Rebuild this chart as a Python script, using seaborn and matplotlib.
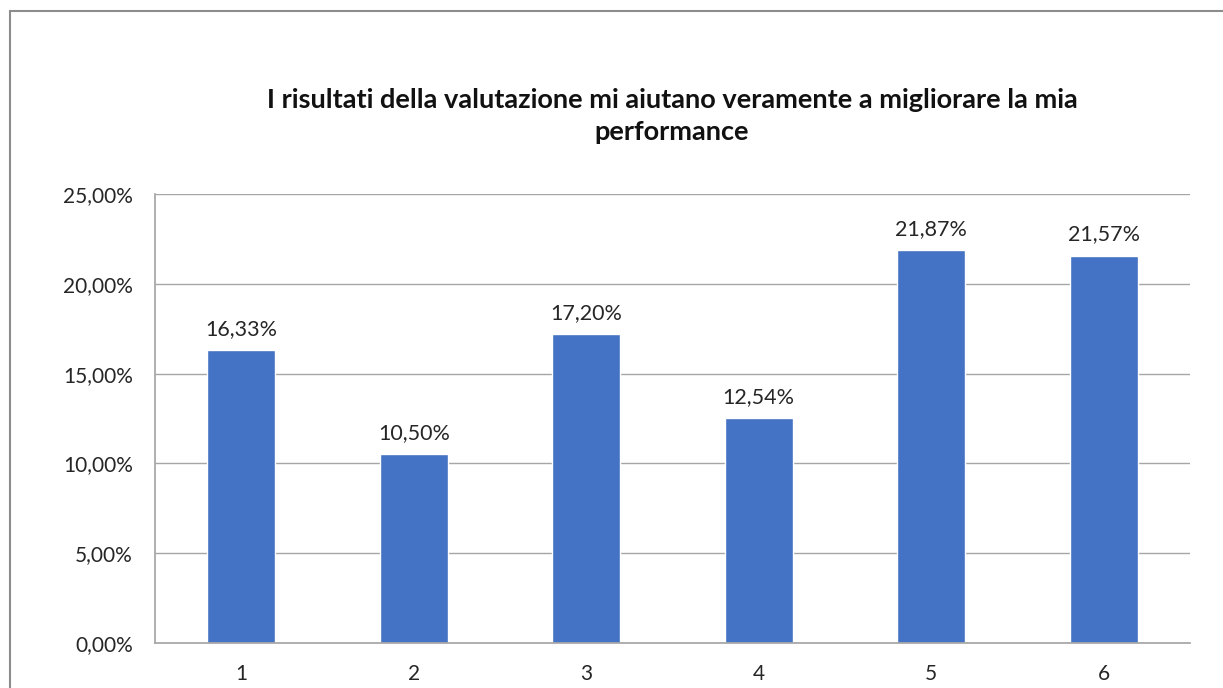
import matplotlib
matplotlib.use("Agg")
import matplotlib.pyplot as plt
from matplotlib.patches import Rectangle
import pandas as pd
import seaborn as sns

categories = ["1", "2", "3", "4", "5", "6"]
values = [16.33, 10.50, 17.20, 12.54, 21.87, 21.57]
y_ticks = [0, 5, 10, 15, 20, 25]
title = "I risultati della valutazione mi aiutano veramente a migliorare la mia\nperformance"

bar_color = "#4472C4"
grid_color = "#A6A6A6"
text_color = "#262626"

sns.set_theme(style="white")
plt.rcParams["font.family"] = ["Lato", "DejaVu Sans"]

df = pd.DataFrame({"cat": categories, "val": values})

fig = plt.figure(figsize=(12.23, 6.88), dpi=100)
ax = fig.add_axes([155 / 1223, 1 - 643 / 688, (1190 - 155) / 1223, (643 - 194) / 688])

sns.barplot(data=df, x="cat", y="val", color=bar_color, saturation=1, width=0.394, ax=ax)

ax.set_ylim(0, 25)
ax.set_yticks(y_ticks)
ax.set_yticklabels([f"{t:.2f}%".replace(".", ",") for t in y_ticks])
ax.yaxis.grid(True, color=grid_color, linewidth=1)
ax.set_axisbelow(True)
ax.tick_params(axis="both", length=0, labelsize=15, colors=text_color)
ax.tick_params(axis="y", pad=16)
ax.tick_params(axis="x", pad=15)
ax.set_xlabel("")
ax.set_ylabel("")
for side in ["top", "right"]:
    ax.spines[side].set_visible(False)
ax.spines["left"].set_color(grid_color)
ax.spines["bottom"].set_color(grid_color)

for p, v in zip(ax.patches, values):
    ax.annotate(f"{v:.2f}%".replace(".", ","), (p.get_x() + p.get_width() / 2, p.get_height()),
                xytext=(0, 8), textcoords="offset points", ha="center", va="bottom",
                fontsize=15.5, color=text_color)

fig.text(672 / 1223, 1 - 116 / 688, title, ha="center", va="center", fontsize=19.5,
         fontweight="bold", color="#111111", linespacing=1.35)

# outer chart border (clipped by the image at right/bottom)
fig.patches.append(Rectangle((10 / 1223, -0.1), 1.2, 1 - 11 / 688 + 0.1, transform=fig.transFigure,
                             fill=False, edgecolor="#8c8c8c", linewidth=1.5))

fig.savefig("out.png", dpi=100)
